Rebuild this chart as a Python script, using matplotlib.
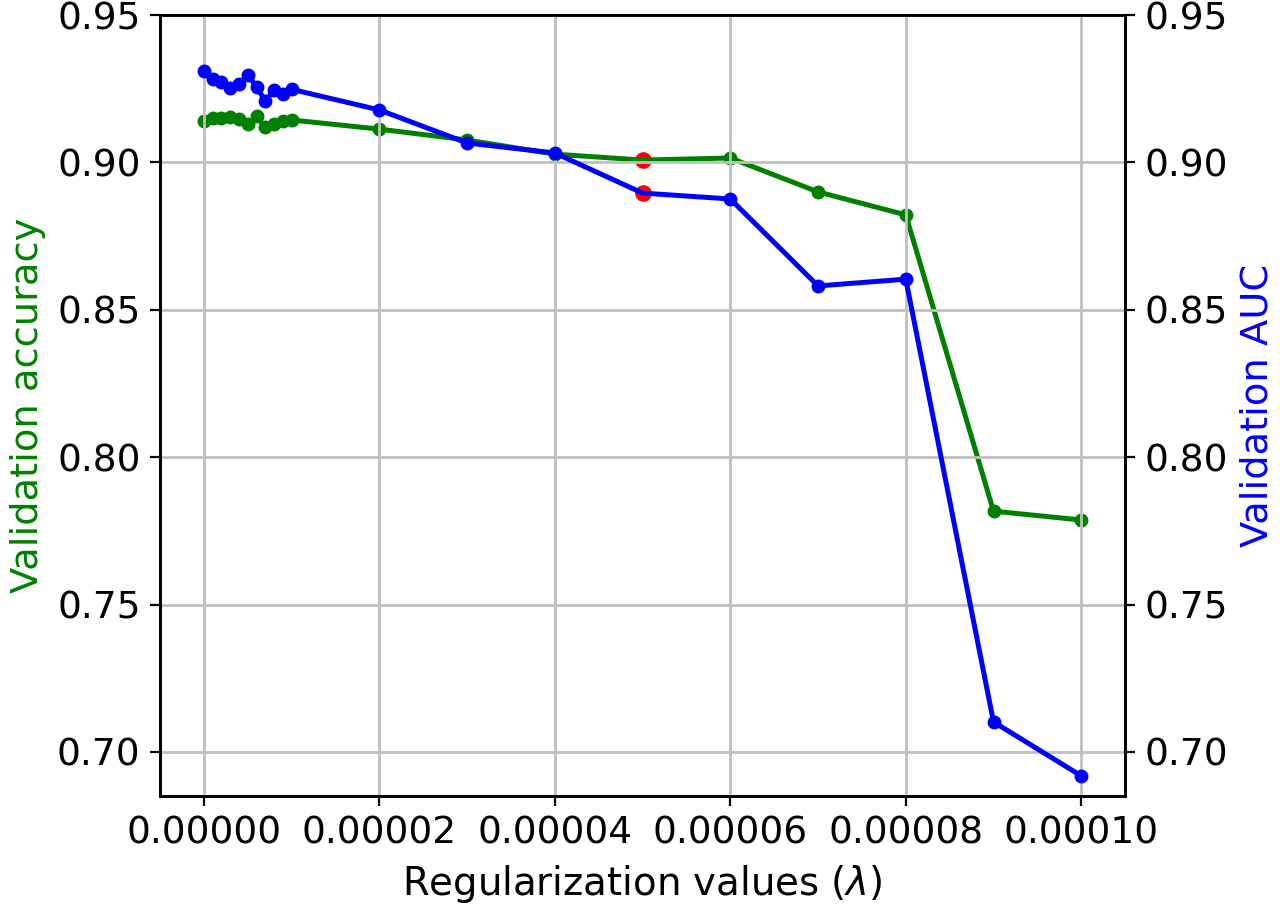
import matplotlib
matplotlib.use("Agg")
import matplotlib.pyplot as plt

# regularization values
lambdas = [0, 1e-6, 2e-6, 3e-6, 4e-6, 5e-6, 6e-6, 7e-6, 8e-6, 9e-6, 1e-5,
           2e-5, 3e-5, 4e-5, 5e-5, 6e-5, 7e-5, 8e-5, 9e-5, 1e-4]

val_acc = [0.9141, 0.9150, 0.9152, 0.9153, 0.9147, 0.9130, 0.9157, 0.9119, 0.9130, 0.9141, 0.9144,
           0.9113, 0.9076, 0.9028, 0.9008, 0.9015, 0.8900, 0.8822, 0.7817, 0.7787]

val_auc = [0.9310, 0.9283, 0.9274, 0.9251, 0.9266, 0.9296, 0.9257, 0.9208, 0.9246, 0.9232, 0.9248,
           0.9178, 0.9066, 0.9032, 0.8896, 0.8876, 0.8581, 0.8604, 0.7102, 0.6919]

best_lambda = 5e-5

plt.rcParams['font.size'] = 13.5
plt.rcParams['axes.linewidth'] = 1.0

fig = plt.figure(figsize=(6.4, 4.555), dpi=200)
ax1 = fig.add_axes([0.125, 0.126, 0.754, 0.8575])
ax2 = ax1.twinx()

i = lambdas.index(best_lambda)
for ax, vals, col in [(ax1, val_acc, 'green'), (ax2, val_auc, 'blue')]:
    # markers, then the red best point, then the line on top
    ax.plot(lambdas, vals, 'o', color=col, ms=4, zorder=2)
    ax.plot(lambdas[i], vals[i], 'o', color='red', ms=5, zorder=2.1)
    ax.plot(lambdas, vals, '-', color=col, lw=1.8, zorder=2.2)

ax1.set_ylim(0.685, 0.95)
ax2.set_ylim(0.685, 0.95)
ax1.set_xlim(-5e-6, 1.05e-4)
ax1.set_xticks([0, 2e-5, 4e-5, 6e-5, 8e-5, 1e-4])
ax1.set_xticklabels(['0.00000', '0.00002', '0.00004', '0.00006', '0.00008', '0.00010'])
yt = [0.70, 0.75, 0.80, 0.85, 0.90, 0.95]
ax1.set_yticks(yt)
ax2.set_yticks(yt)
ax1.set_yticklabels(['%.2f' % v for v in yt])
ax2.set_yticklabels(['%.2f' % v for v in yt])

# grid drawn over the green line, under the blue one
ax1.set_axisbelow(False)
ax1.grid(True, color='#c0c0c0', lw=1.0)
ax1.set_xlabel(r'Regularization values ($\lambda$)', fontsize=13.9)
ax1.set_ylabel('Validation accuracy', color='green', fontsize=13.8)
ax2.set_ylabel('Validation AUC', color='blue', fontsize=13.8)

fig.savefig('out.png', dpi=200)
